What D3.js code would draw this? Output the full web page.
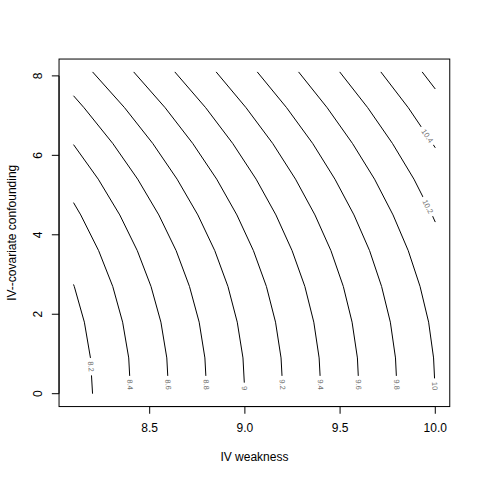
<!DOCTYPE html>
<html><head><meta charset="utf-8">
<script src="https://cdn.jsdelivr.net/npm/d3@7"></script>
<style>body{margin:0;background:#fff}svg{display:block}</style>
</head><body>
<svg id="chart" width="480" height="480"></svg>
<script>
// ---- data ----
const levels = [8.2, 8.4, 8.6, 8.8, 9.0, 9.2, 9.4, 9.6, 9.8, 10.0, 10.2, 10.4, 10.6];
// each contour as [IV weakness, IV--covariate confounding] points
const contourPoints = [
  [[8.2,0],[8.189,0.9],[8.157,1.8],[8.104,2.7],[8.1,2.75]],
  [[8.4,0],[8.39,0.9],[8.358,1.8],[8.306,2.7],[8.232,3.6],[8.138,4.5],[8.1,4.81]],
  [[8.6,0],[8.59,0.9],[8.559,1.8],[8.507,2.7],[8.435,3.6],[8.343,4.5],[8.23,5.4],[8.1,6.27]],
  [[8.8,0],[8.79,0.9],[8.76,1.8],[8.709,2.7],[8.639,3.6],[8.548,4.5],[8.437,5.4],[8.306,6.3],[8.155,7.2],[8.1,7.5]],
  [[9.0,0],[8.99,0.9],[8.96,1.8],[8.911,2.7],[8.842,3.6],[8.753,4.5],[8.644,5.4],[8.516,6.3],[8.368,7.2],[8.2,8.1]],
  [[9.2,0],[9.19,0.9],[9.161,1.8],[9.113,2.7],[9.045,3.6],[8.958,4.5],[8.852,5.4],[8.726,6.3],[8.581,7.2],[8.416,8.1]],
  [[9.4,0],[9.39,0.9],[9.362,1.8],[9.315,2.7],[9.248,3.6],[9.163,4.5],[9.059,5.4],[8.936,6.3],[8.794,7.2],[8.632,8.1]],
  [[9.6,0],[9.591,0.9],[9.563,1.8],[9.517,2.7],[9.452,3.6],[9.368,4.5],[9.266,5.4],[9.146,6.3],[9.006,7.2],[8.849,8.1]],
  [[9.8,0],[9.791,0.9],[9.764,1.8],[9.718,2.7],[9.655,3.6],[9.573,4.5],[9.473,5.4],[9.356,6.3],[9.219,7.2],[9.065,8.1]],
  [[10.0,0],[9.991,0.9],[9.965,1.8],[9.92,2.7],[9.858,3.6],[9.778,4.5],[9.681,5.4],[9.565,6.3],[9.432,7.2],[9.282,8.1]],
  [[10.0,4.32],[9.983,4.5],[9.888,5.4],[9.775,6.3],[9.645,7.2],[9.498,8.1]],
  [[10.0,6.19],[9.985,6.3],[9.858,7.2],[9.714,8.1]],
  [[10.0,7.67],[9.931,8.1]]
];
const labelTexts = ["8.2","8.4","8.6","8.8","9","9.2","9.4","9.6","9.8","10","10.2","10.4"];
const labelAtY   = [0.68, 0.23, 0.23, 0.23, 0.14, 0.23, 0.23, 0.23, 0.23, 0.19, 4.71, 6.49];
const xTicks = [8.5, 9.0, 9.5, 10.0];
const yTicks = [0, 2, 4, 6, 8];
const xRange = [8.1, 10.0];
const yRange = [0, 8.1];

// ---- layout ----
const L = 59.04, R = 449.76, T = 59.04, B = 406.56;
const xe = (xRange[1]-xRange[0])*0.04, ye = (yRange[1]-yRange[0])*0.04;
const x = d3.scaleLinear().domain([xRange[0]-xe, xRange[1]+xe]).range([L, R]);
const y = d3.scaleLinear().domain([yRange[0]-ye, yRange[1]+ye]).range([B, T]);
const svg = d3.select("#chart");
const font = "'Liberation Sans', Arial, Helvetica, sans-serif";

// contours
const line = d3.line().x(d => x(d[0])).y(d => y(d[1]));
svg.append("g").selectAll("path").data(contourPoints).join("path")
  .attr("d", line).attr("fill", "none").attr("stroke", "#000").attr("stroke-width", 1);

// contour labels
function locate(pts, yy) {
  const s = pts.slice().sort((a,b)=>a[1]-b[1]);
  for (let i=0;i<s.length-1;i++){
    const a=s[i], b=s[i+1];
    if (yy>=a[1] && yy<=b[1]) {
      const t=(yy-a[1])/(b[1]-a[1]);
      return {x: a[0]+t*(b[0]-a[0]), a, b};
    }
  }
  return {x: s[0][0], a: s[0], b: s[1]};
}
const lg = svg.append("g");
labelTexts.forEach((txt, i) => {
  const pts = contourPoints[i];
  const loc = locate(pts, labelAtY[i]);
  const px = x(loc.x), py = y(labelAtY[i]);
  let ang = Math.atan2(y(loc.b[1])-y(loc.a[1]), x(loc.b[0])-x(loc.a[0]))*180/Math.PI;
  if (ang > 90) ang -= 180;
  if (ang <= -90) ang += 180;
  const g = lg.append("g").attr("transform", `translate(${px},${py}) rotate(${ang})`);
  const rect = g.append("rect").attr("fill", "#fff");
  const t = g.append("text").text(txt)
    .attr("font-family", font).attr("font-size", 7.5).attr("fill", "#6f6f6f")
    .attr("text-anchor", "middle").attr("dy", "0.35em");
  const w = t.node().getComputedTextLength();
  let x0 = -w/2 - 3.5, x1 = w/2 + 3.5;
  if (labelAtY[i] < 0.5) x1 = Math.max(x1, (y(0) - py) + 2);
  rect.attr("x", x0).attr("width", x1 - x0).attr("y", -3).attr("height", 6);
});

// box
svg.append("rect").attr("x", L).attr("y", T).attr("width", R-L).attr("height", B-T)
  .attr("fill", "none").attr("stroke", "#000").attr("stroke-width", 1);

// x axis
const ax = svg.append("g");
ax.append("line").attr("x1", x(xTicks[0])).attr("x2", x(xTicks[xTicks.length-1]))
  .attr("y1", B).attr("y2", B).attr("stroke", "#000");
ax.selectAll("line.t").data(xTicks).join("line").attr("class","t")
  .attr("x1", d=>x(d)).attr("x2", d=>x(d)).attr("y1", B).attr("y2", B+7.2).attr("stroke", "#000");
ax.selectAll("text").data(xTicks).join("text")
  .attr("x", d=>x(d)).attr("y", 432).attr("text-anchor","middle")
  .attr("font-family", font).attr("font-size", 12).text(d3.format(".1f"));

// y axis
const ay = svg.append("g");
ay.append("line").attr("x1", L).attr("x2", L)
  .attr("y1", y(yTicks[0])).attr("y2", y(yTicks[yTicks.length-1])).attr("stroke", "#000");
ay.selectAll("line.t").data(yTicks).join("line").attr("class","t")
  .attr("x1", L).attr("x2", L-7.2).attr("y1", d=>y(d)).attr("y2", d=>y(d)).attr("stroke", "#000");
ay.selectAll("text").data(yTicks).join("text")
  .attr("transform", d=>`translate(42,${y(d)}) rotate(-90)`).attr("text-anchor","middle")
  .attr("font-family", font).attr("font-size", 12).text(d=>d);

// titles
svg.append("text").attr("x", (L+R)/2).attr("y", 461).attr("text-anchor","middle")
  .attr("font-family", font).attr("font-size", 12).text("IV weakness");
svg.append("text").attr("transform", `translate(15.5,${(T+B)/2}) rotate(-90)`).attr("text-anchor","middle")
  .attr("font-family", font).attr("font-size", 12).text("IV--covariate confounding");
</script>
</body></html>
